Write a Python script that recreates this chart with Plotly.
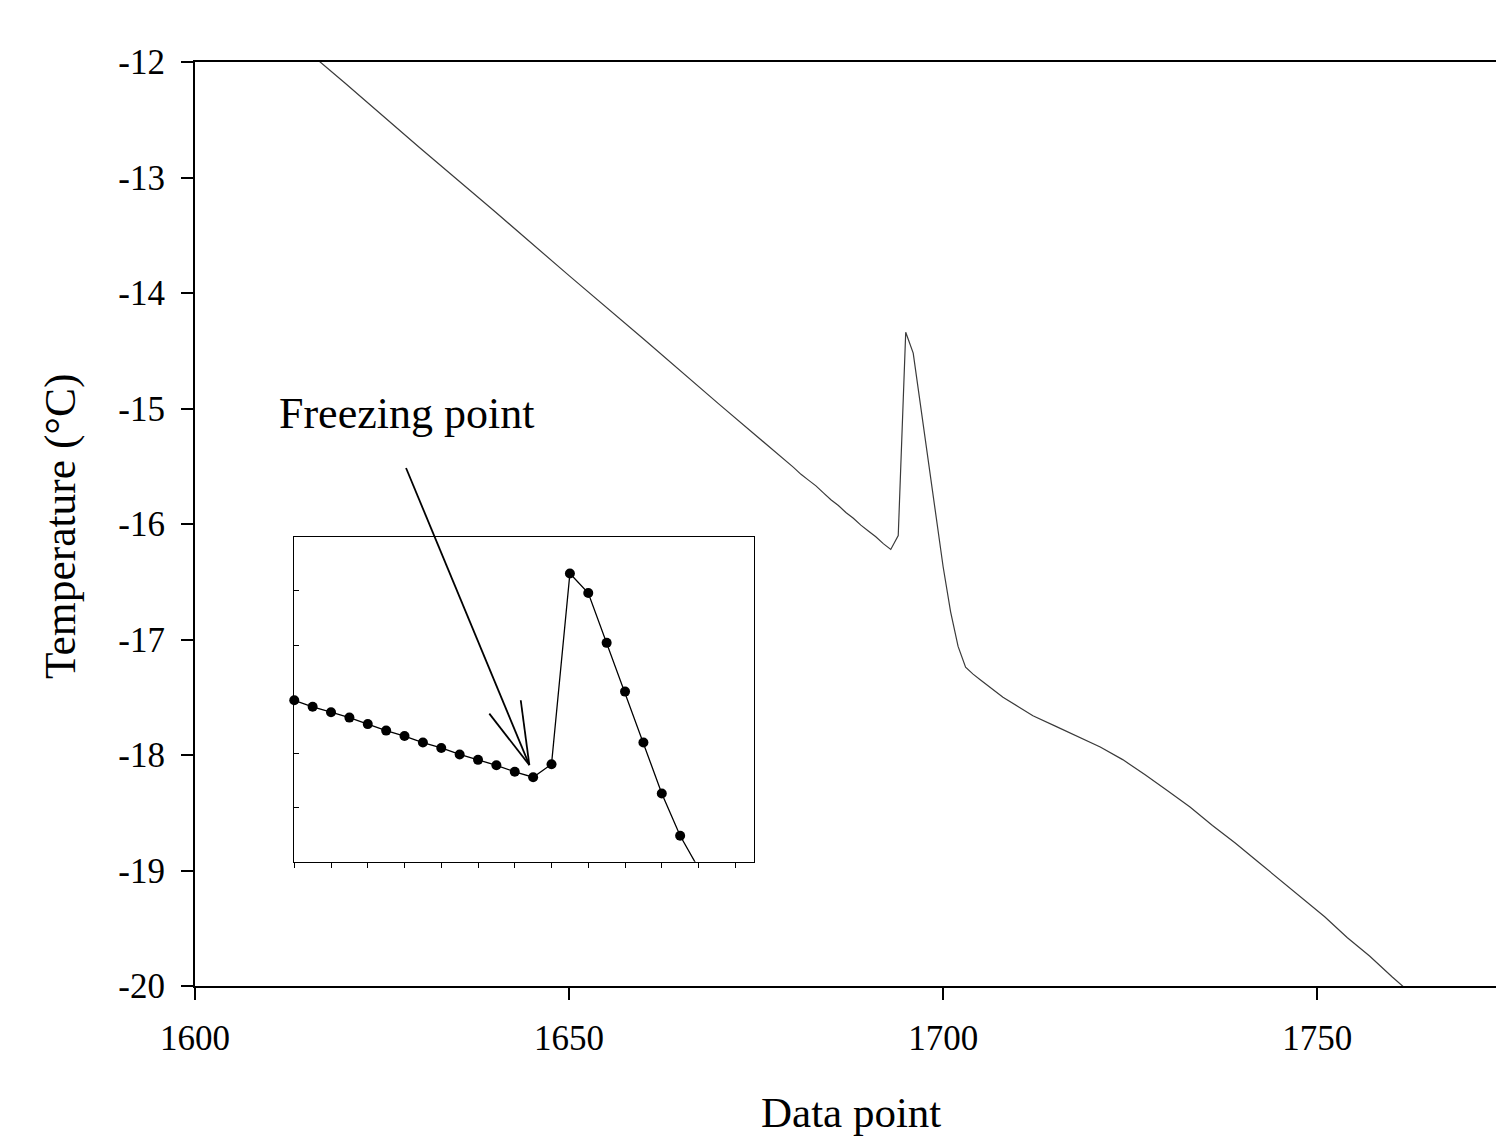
import plotly.graph_objects as go

# ---- data ----
data_point = [1600, 1610, 1620, 1630, 1640, 1650, 1660, 1670,
              1680, 1681, 1682, 1683, 1684, 1685, 1686, 1687, 1688, 1689,
              1690, 1691, 1692, 1693, 1694, 1695, 1696, 1697, 1698, 1699,
              1700, 1701, 1702, 1703, 1704, 1705, 1706, 1707, 1708, 1710,
              1712, 1715, 1718, 1721, 1724, 1727, 1730, 1733, 1736, 1739,
              1742, 1745, 1748, 1751, 1754, 1757, 1760, 1763]
temperature = [-11.07, -11.63, -12.18, -12.74, -13.29, -13.85, -14.40, -14.96,
               -15.51, -15.57, -15.62, -15.67, -15.73, -15.79, -15.84, -15.90, -15.95, -16.01,
               -16.06, -16.11, -16.17, -16.22, -16.10, -14.34, -14.52, -14.98, -15.43, -15.90,
               -16.37, -16.76, -17.06, -17.24, -17.30, -17.35, -17.40, -17.45, -17.50, -17.58,
               -17.66, -17.75, -17.84, -17.93, -18.04, -18.17, -18.31, -18.45, -18.61, -18.76,
               -18.92, -19.08, -19.24, -19.40, -19.58, -19.74, -19.92, -20.09]

x_ticks = [1600, 1650, 1700, 1750]
x_tick_labels = ["1600", "1650", "1700", "1750"]
y_ticks = [-20, -19, -18, -17, -16, -15, -14, -13, -12]
y_tick_labels = ["-20", "-19", "-18", "-17", "-16", "-15", "-14", "-13", "-12"]

inset_x_range = [1680, 1705]
inset_y_range = [-17, -14]

FONT = "Liberation Serif"

fig = go.Figure()

# main curve
fig.add_trace(go.Scatter(x=data_point, y=temperature, mode="lines",
                         line=dict(color="#3a3a3a", width=1.2),
                         xaxis="x", yaxis="y", showlegend=False, hoverinfo="skip"))

# inset: line
fig.add_trace(go.Scatter(x=data_point, y=temperature, mode="lines",
                         line=dict(color="black", width=1.3),
                         xaxis="x2", yaxis="y2", showlegend=False, hoverinfo="skip"))
# inset: markers for visible points
visible = [(x, y) for x, y in zip(data_point, temperature)
           if inset_x_range[0] <= x <= inset_x_range[1] and inset_y_range[0] <= y <= inset_y_range[1]]
fig.add_trace(go.Scatter(x=[p[0] for p in visible], y=[p[1] for p in visible], mode="markers",
                         marker=dict(color="black", size=10),
                         cliponaxis=False,
                         xaxis="x2", yaxis="y2", showlegend=False, hoverinfo="skip"))

axis_common = dict(showgrid=False, zeroline=False, linecolor="black")

fig.update_layout(
    width=1496, height=1137,
    margin=dict(l=195, r=0, t=62, b=151),
    paper_bgcolor="white", plot_bgcolor="white",
    font=dict(family=FONT, color="black"),
    xaxis=dict(**axis_common, range=[1600, 1773.9], tickvals=x_ticks, ticktext=x_tick_labels,
               ticks="outside", ticklen=12, tickwidth=2, tickcolor="black",
               ticklabelstandoff=8,
               showline=True, linewidth=2, mirror=True,
               tickfont=dict(size=35, family=FONT), domain=[0, 1], anchor="y"),
    yaxis=dict(**axis_common, range=[-20, -12], tickvals=y_ticks, ticktext=y_tick_labels,
               ticks="outside", ticklen=12, tickwidth=2, tickcolor="black",
               ticklabelstandoff=9,
               showline=True, linewidth=2, mirror=False,
               tickfont=dict(size=35, family=FONT), domain=[0, 1], anchor="x"),
    xaxis2=dict(**axis_common, range=inset_x_range, tick0=1680, dtick=2,
                ticks="outside", ticklen=5, tickwidth=1.3, tickcolor="black",
                showline=True, linewidth=1.3, mirror=True, showticklabels=False,
                domain=[0.0763, 0.4294], anchor="y2"),
    yaxis2=dict(**axis_common, range=inset_y_range, tick0=-17, dtick=0.5,
                ticks="inside", ticklen=5, tickwidth=1.3, tickcolor="black",
                showline=True, linewidth=1.3, mirror=True, showticklabels=False,
                domain=[0.1345, 0.4863], anchor="x2"),
)

# arrow pointing at the freezing point (open arrowhead)
arrow_line = dict(color="black", width=1.8)
fig.add_shape(type="line", xref="x", yref="y", x0=1628.21, y0=-15.515, x1=1644.69, y1=-18.087, line=arrow_line)
fig.add_shape(type="line", xref="x", yref="y", x0=1639.34, y0=-17.642, x1=1644.69, y1=-18.087, line=arrow_line)
fig.add_shape(type="line", xref="x", yref="y", x0=1643.54, y0=-17.526, x1=1644.69, y1=-18.087, line=arrow_line)

fig.add_annotation(text="Freezing point", xref="x", yref="y", x=1610.9, y=-15.04,
                   xanchor="left", yanchor="middle", showarrow=False,
                   font=dict(size=44, family=FONT, color="black"))
fig.add_annotation(text="Data point", xref="paper", yref="paper", x=0.5042, y=-0.1374,
                   xanchor="center", yanchor="middle", showarrow=False,
                   font=dict(size=43, family=FONT, color="black"))
fig.add_annotation(text="Temperature (°C)", xref="paper", yref="paper", x=-0.1038, y=0.4978,
                   xanchor="center", yanchor="middle", textangle=-90, showarrow=False,
                   font=dict(size=43.5, family=FONT, color="black"))

fig.write_html("out.html")
